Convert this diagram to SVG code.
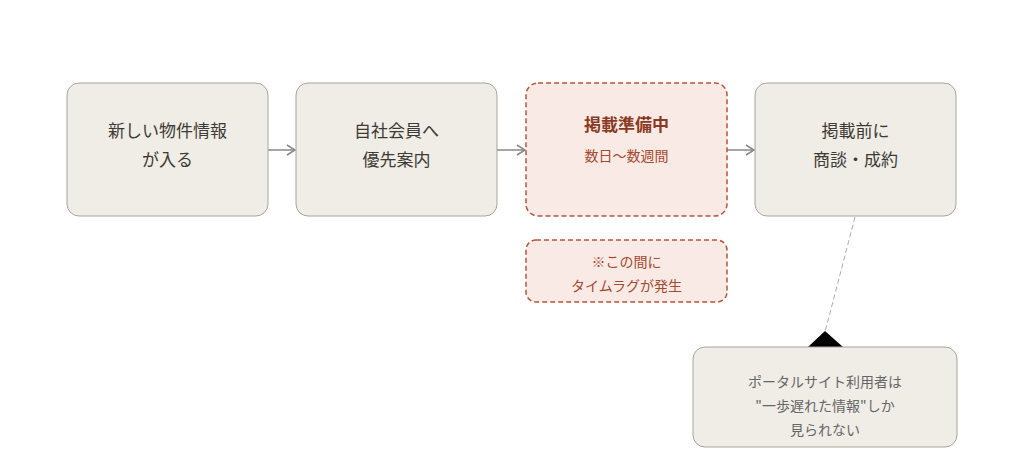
<svg xmlns="http://www.w3.org/2000/svg" width="1024" height="473" viewBox="0 0 1024 473">
<style>
text{font-family:"Noto Sans CJK JP","Noto Sans",sans-serif;text-anchor:middle}
.n{fill:#f0ede6;stroke:#a8a49c;stroke-width:1}
.h{fill:#faeae5;stroke:#b5553d;stroke-width:1.5;stroke-dasharray:5,3}
.t{font-size:17px;fill:#3d3a35}
.r{fill:#a34a32}
.g{font-size:14px;fill:#666}
.c{stroke:#888;stroke-width:1.5;fill:none}
</style>
<defs><marker id="a" markerWidth="10" markerHeight="12" refX="9" refY="6" orient="auto" markerUnits="userSpaceOnUse"><path d="M1,1 L9,6 L1,11" fill="none" stroke="#888" stroke-width="1.5"/></marker></defs>
<rect width="1024" height="473" fill="#fff"/>
<g id="connectors">
<line class="c" x1="268" y1="150" x2="295" y2="150" marker-end="url(#a)"/>
<line class="c" x1="497" y1="150" x2="525" y2="150" marker-end="url(#a)"/>
<line class="c" x1="727" y1="150" x2="754" y2="150" marker-end="url(#a)"/>
<line x1="855" y1="217" x2="825" y2="332" stroke="#aaa" stroke-width="1" stroke-dasharray="5,3"/>
<polygon points="825,331 808,347 843,347" fill="#000"/>
</g>
<g id="n1"><rect class="n" x="67" y="83" width="201" height="133" rx="12"/><text class="t" x="167.5" y="137">新しい物件情報</text><text class="t" x="167.5" y="166">が入る</text></g>
<g id="n2"><rect class="n" x="296" y="83" width="201" height="133" rx="12"/><text class="t" x="396.5" y="137">自社会員へ</text><text class="t" x="396.5" y="166">優先案内</text></g>
<g id="n3"><rect class="h" x="526" y="83" width="201" height="133" rx="12"/><text class="t r" x="626.5" y="131" font-weight="bold" style="fill:#8a3a24">掲載準備中</text><text class="r" x="626.5" y="161" font-size="14">数日〜数週間</text></g>
<g id="n4"><rect class="n" x="755" y="83" width="201" height="133" rx="12"/><text class="t" x="855.5" y="137">掲載前に</text><text class="t" x="855.5" y="166">商談・成約</text></g>
<g id="note"><rect class="h" x="526" y="240" width="201" height="62" rx="10"/><text class="r" x="626.5" y="267" font-size="14">※この間に</text><text class="r" x="626.5" y="291" font-size="14">タイムラグが発生</text></g>
<g id="callout"><rect class="n" x="693" y="347" width="264" height="100" rx="12"/><text class="g" x="825" y="387">ポータルサイト利用者は</text><text class="g" x="825" y="411">"一歩遅れた情報"しか</text><text class="g" x="825" y="435">見られない</text></g>
</svg>
